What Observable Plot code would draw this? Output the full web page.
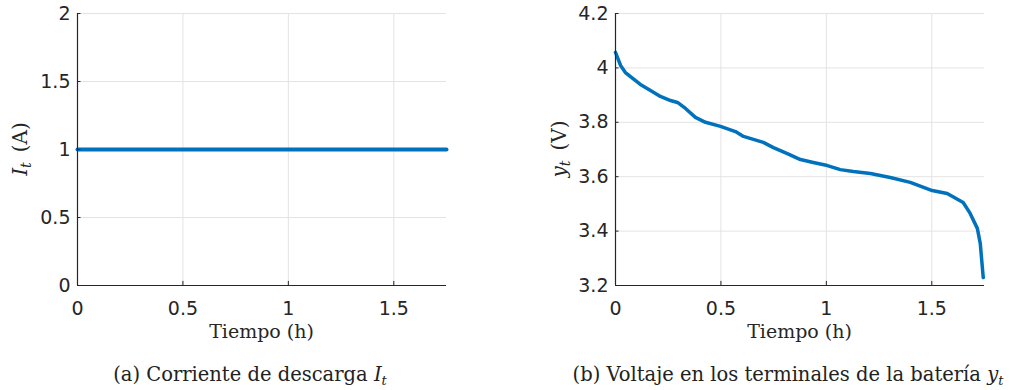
<!DOCTYPE html>
<html>
<head>
<meta charset="utf-8">
<script src="https://cdn.jsdelivr.net/npm/d3@7"></script>
<script src="https://cdn.jsdelivr.net/npm/@observablehq/plot@0.6"></script>
<style>
  html, body { margin: 0; padding: 0; background: #fff; }
  #wrap { position: relative; width: 1010px; height: 390px; overflow: hidden; }
  .panel { position: absolute; top: 0; }
  .panel svg g[aria-label="x-axis tick label"] text,
  .panel svg g[aria-label="y-axis tick label"] text { font-family: "DejaVu Sans", sans-serif; font-size: 19px; }
  .cap { position: absolute; top: 363px; font-family: "DejaVu Serif", serif; font-size: 19.5px; line-height: 24px; color: #222; white-space: nowrap; transform: translateX(-50%); }
  .cap sub { font-size: 13px; font-style: italic; vertical-align: -4px; line-height: 0; }
</style>
</head>
<body>
<div id="wrap"></div>
<script>
// ---- data ----
const currentTime = [0, 1.75];            // h
const currentValue = [1, 1];              // A
const voltageTime = [0, 0.024, 0.047, 0.071, 0.118, 0.166, 0.213, 0.261, 0.294, 0.332, 0.379, 0.427, 0.498, 0.569, 0.607, 0.701, 0.749, 0.815, 0.877, 0.938, 1.005, 1.066, 1.128, 1.209, 1.303, 1.398, 1.502, 1.573, 1.649, 1.682, 1.716, 1.730, 1.744];
const voltageValue = [4.057, 4.009, 3.983, 3.968, 3.939, 3.917, 3.895, 3.880, 3.873, 3.851, 3.818, 3.800, 3.785, 3.766, 3.748, 3.726, 3.707, 3.685, 3.663, 3.652, 3.641, 3.626, 3.619, 3.612, 3.597, 3.579, 3.549, 3.538, 3.505, 3.465, 3.410, 3.354, 3.229];
const xTicks = [0, 0.5, 1, 1.5];
const yTicksA = [0, 0.5, 1, 1.5, 2];
const yTicksB = [3.2, 3.4, 3.6, 3.8, 4, 4.2];
const xLabel = "Tiempo (h)";
const captionA = ["(a) Corriente de descarga ", "I", "t"];
const captionB = ["(b) Voltaje en los terminales de la batería ", "y", "t"];
const yLabelA = ["I", "t", "(A)"];
const yLabelB = ["y", "t", "(V)"];

const blue = "#0072BD";
const axisColor = "#262626";
const gridColor = "#e3e3e3";

function panel({left, marginLeft, marginRight, yDomain, yTicks, data, lineWidth, yLab, yLabX, caption, capX}) {
  const xLen = 0.0095 * (1.75);   // inward tick length in data units (~4px)
  const yLen = (yDomain[1] - yDomain[0]) * 0.015;
  const H = 345;
  const chart = Plot.plot({
    width: 505, height: H,
    marginLeft, marginRight, marginTop: 13, marginBottom: 60,
    style: {fontFamily: "'DejaVu Sans', sans-serif", fontSize: "19px", color: axisColor, background: "transparent"},
    x: {domain: [0, 1.75]},
    y: {domain: yDomain},
    marks: [
      Plot.gridX(xTicks.filter(d => d > 0), {stroke: gridColor, strokeOpacity: 1}),
      Plot.gridY(yTicks.filter(d => d > yDomain[0]), {stroke: gridColor, strokeOpacity: 1}),
      Plot.line(data, {x: "t", y: "v", stroke: blue, strokeWidth: lineWidth}),
      Plot.ruleX(xTicks, {x: d => d, y1: yDomain[0], y2: yDomain[0] + yLen, stroke: axisColor}),
      Plot.ruleY(yTicks, {y: d => d, x1: 0, x2: xLen, stroke: axisColor}),
      Plot.ruleY([yDomain[0]], {stroke: axisColor, strokeWidth: 1.2}),
      Plot.ruleX([0], {stroke: axisColor, strokeWidth: 1.2}),
      Plot.axisX(xTicks, {tickSize: 0, tickPadding: 16, label: null, tickFormat: d => String(d), fill: axisColor}),
      Plot.axisY(yTicks, {tickSize: 0, tickPadding: 7, label: null, tickFormat: d => String(d), fill: axisColor})
    ]
  });
  const svg = d3.select(chart);
  const cx = marginLeft + (505 - marginLeft - marginRight) / 2;
  svg.append("text")
    .attr("x", cx).attr("y", 338)
    .attr("text-anchor", "middle")
    .attr("font-family", "'DejaVu Serif', serif").attr("font-size", 19).attr("fill", axisColor)
    .text(xLabel);
  const t = svg.append("text")
    .attr("transform", `translate(${yLabX},149) rotate(-90)`)
    .attr("text-anchor", "middle")
    .attr("font-family", "'DejaVu Serif', serif").attr("font-size", 20).attr("fill", axisColor);
  t.append("tspan").attr("font-style", "italic").text(yLab[0]);
  t.append("tspan").attr("font-style", "italic").attr("font-size", 14).attr("dy", 4).text(yLab[1]);
  t.append("tspan").attr("dy", -4).attr("dx", 10).text(yLab[2]);

  const div = document.createElement("div");
  div.className = "panel";
  div.style.left = left + "px";
  div.appendChild(chart);
  document.getElementById("wrap").appendChild(div);

  const cap = document.createElement("div");
  cap.className = "cap";
  cap.style.left = capX + "px";
  cap.appendChild(document.createTextNode(caption[0]));
  const i = document.createElement("i"); i.textContent = caption[1]; cap.appendChild(i);
  const s = document.createElement("sub"); s.textContent = caption[2]; cap.appendChild(s);
  document.getElementById("wrap").appendChild(cap);
}

panel({
  left: 0, marginLeft: 77, marginRight: 59, yDomain: [0, 2], yTicks: yTicksA, lineWidth: 4,
  data: currentTime.map((t, i) => ({t, v: currentValue[i]})),
  yLab: yLabelA, yLabX: 27, caption: captionA, capX: 250
});
panel({
  left: 505, marginLeft: 110, marginRight: 26, yDomain: [3.2, 4.2], yTicks: yTicksB, lineWidth: 3.5,
  data: voltageTime.map((t, i) => ({t, v: voltageValue[i]})),
  yLab: yLabelB, yLabX: 61, caption: captionB, capX: 788
});
</script>
</body>
</html>
